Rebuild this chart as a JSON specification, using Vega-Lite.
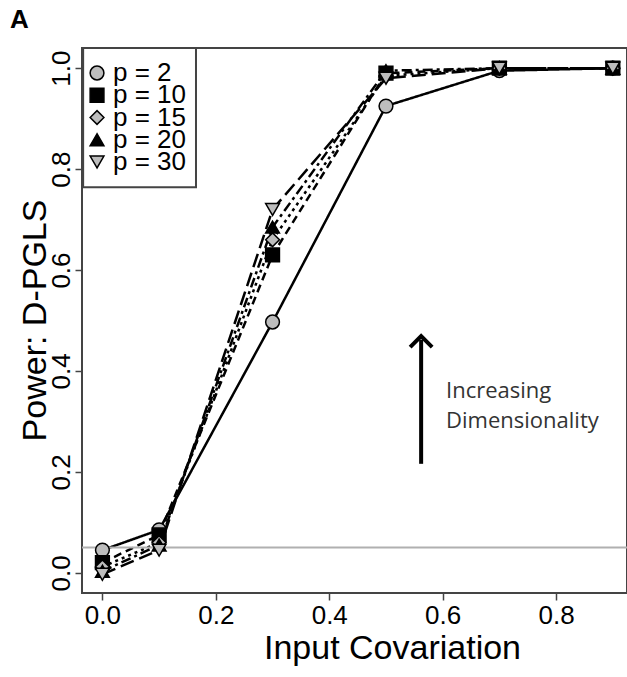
{
  "$schema": "https://vega.github.io/schema/vega-lite/v6.json",
  "width": 545,
  "height": 545,
  "autosize": {"type": "none"},
  "padding": {"left": 82, "top": 48, "right": 0, "bottom": 84},
  "background": "white",
  "title": {"text": "A", "anchor": "start", "frame": "group", "dx": -72, "offset": 14, "fontSize": 26, "fontWeight": "bold", "font": "Liberation Sans", "color": "black"},
  "config": {
    "view": {"stroke": "#444", "strokeWidth": 2},
    "font": "Liberation Sans"
  },
  "datasets": {
    "power": [
      {"p": "p = 2", "x": 0.0, "y": 0.045},
      {"p": "p = 2", "x": 0.1, "y": 0.085},
      {"p": "p = 2", "x": 0.3, "y": 0.497},
      {"p": "p = 2", "x": 0.5, "y": 0.925},
      {"p": "p = 2", "x": 0.7, "y": 0.995},
      {"p": "p = 2", "x": 0.9, "y": 1.0},
      {"p": "p = 10", "x": 0.0, "y": 0.02},
      {"p": "p = 10", "x": 0.1, "y": 0.075},
      {"p": "p = 10", "x": 0.3, "y": 0.63},
      {"p": "p = 10", "x": 0.5, "y": 0.99},
      {"p": "p = 10", "x": 0.7, "y": 1.0},
      {"p": "p = 10", "x": 0.9, "y": 1.0},
      {"p": "p = 15", "x": 0.0, "y": 0.012},
      {"p": "p = 15", "x": 0.1, "y": 0.06},
      {"p": "p = 15", "x": 0.3, "y": 0.66},
      {"p": "p = 15", "x": 0.5, "y": 0.985},
      {"p": "p = 15", "x": 0.7, "y": 1.0},
      {"p": "p = 15", "x": 0.9, "y": 1.0},
      {"p": "p = 20", "x": 0.0, "y": 0.003},
      {"p": "p = 20", "x": 0.1, "y": 0.055},
      {"p": "p = 20", "x": 0.3, "y": 0.685},
      {"p": "p = 20", "x": 0.5, "y": 0.995},
      {"p": "p = 20", "x": 0.7, "y": 1.0},
      {"p": "p = 20", "x": 0.9, "y": 1.0},
      {"p": "p = 30", "x": 0.0, "y": -0.003},
      {"p": "p = 30", "x": 0.1, "y": 0.045},
      {"p": "p = 30", "x": 0.3, "y": 0.72},
      {"p": "p = 30", "x": 0.5, "y": 0.98},
      {"p": "p = 30", "x": 0.7, "y": 1.0},
      {"p": "p = 30", "x": 0.9, "y": 1.0}
    ],
    "series": [
      {"p": "p = 2"},
      {"p": "p = 10"},
      {"p": "p = 15"},
      {"p": "p = 20"},
      {"p": "p = 30"}
    ]
  },
  "layer": [
    {
      "layer": [
        {
          "data": {"name": "power"},
          "mark": {"type": "line", "color": "black", "strokeWidth": 2.5},
          "encoding": {
            "x": {
              "field": "x", "type": "quantitative",
              "scale": {"domain": [-0.036, 0.925], "nice": false, "zero": false},
              "axis": {
                "values": [0, 0.2, 0.4, 0.6, 0.8], "format": ".1f", "grid": false, "domain": false,
                "tickColor": "#444", "tickWidth": 1.5, "tickSize": 7,
                "labelFontSize": 26, "labelColor": "black", "labelPadding": 2, "labelFont": "Liberation Sans",
                "title": "Input Covariation", "titleFontSize": 34, "titleFontWeight": "normal", "titleColor": "black",
                "titleFont": "Liberation Sans", "titleX": 310, "titleY": 55, "titleAlign": "center", "titleBaseline": "middle"
              }
            },
            "y": {
              "field": "y", "type": "quantitative",
              "scale": {"domain": [-0.04, 1.04], "nice": false, "zero": false},
              "axis": {
                "values": [0, 0.2, 0.4, 0.6, 0.8, 1.0], "format": ".1f", "grid": false, "domain": false,
                "tickColor": "#444", "tickWidth": 1.5, "tickSize": 7,
                "labelFontSize": 26, "labelColor": "black", "labelPadding": 1, "labelAngle": -90,
                "labelAlign": "center", "labelBaseline": "bottom", "labelFont": "Liberation Sans",
                "title": "Power: D-PGLS", "titleFontSize": 34, "titleFontWeight": "normal", "titleColor": "black",
                "titleFont": "Liberation Sans", "titleAngle": -90, "titleX": -47, "titleY": 272, "titleAlign": "center", "titleBaseline": "middle"
              }
            },
            "strokeDash": {
              "field": "p", "type": "nominal",
              "scale": {"domain": ["p = 2", "p = 10", "p = 15", "p = 20", "p = 30"], "range": [[1, 0], [8, 5], [3, 4], [10, 4, 3, 4], [14, 6]]},
              "legend": null
            }
          }
        },
        {
          "data": {"values": [{"y": 0.05}]},
          "mark": {"type": "rule", "color": "#b0b0b0", "strokeWidth": 2},
          "encoding": {
            "y": {"field": "y", "type": "quantitative"}
          }
        },
        {
          "data": {"name": "power"},
          "mark": {"type": "point", "filled": true, "stroke": "black", "strokeWidth": 1.5, "size": 190, "opacity": 1},
          "encoding": {
            "x": {"field": "x", "type": "quantitative"},
            "y": {"field": "y", "type": "quantitative"},
            "shape": {
              "field": "p", "type": "nominal",
              "scale": {"domain": ["p = 2", "p = 10", "p = 15", "p = 20", "p = 30"], "range": ["circle", "square", "diamond", "triangle-up", "triangle-down"]},
              "legend": null
            },
            "fill": {
              "field": "p", "type": "nominal",
              "scale": {"domain": ["p = 2", "p = 10", "p = 15", "p = 20", "p = 30"], "range": ["#bdbdbd", "#000000", "#bdbdbd", "#000000", "#bdbdbd"]},
              "legend": null
            }
          }
        },
        {
          "data": {"values": [{"x": 0.562, "y": 0.216, "y2": 0.462}]},
          "mark": {"type": "rule", "color": "black", "strokeWidth": 4},
          "encoding": {
            "x": {"field": "x", "type": "quantitative"},
            "y": {"field": "y", "type": "quantitative"},
            "y2": {"field": "y2"}
          }
        },
        {
          "data": {"values": [{"x": 0.562, "y": 0.469}]},
          "mark": {"type": "point", "shape": "M-1,1L0,0L1,1", "filled": false, "stroke": "black", "strokeWidth": 4, "size": 484, "opacity": 1},
          "encoding": {
            "x": {"field": "x", "type": "quantitative"},
            "y": {"field": "y", "type": "quantitative"}
          }
        },
        {
          "data": {"values": [{"x": 0.606, "y": 0.36, "t": "Increasing"}, {"x": 0.606, "y": 0.301, "t": "Dimensionality"}]},
          "mark": {"type": "text", "align": "left", "baseline": "middle", "font": "Open Sans", "fontSize": 22, "color": "#333"},
          "encoding": {
            "x": {"field": "x", "type": "quantitative"},
            "y": {"field": "y", "type": "quantitative"},
            "text": {"field": "t"}
          }
        },
        {
          "data": {"values": [{"box": "legend"}]},
          "mark": {"type": "rect", "fill": "white", "stroke": "#444", "strokeWidth": 2},
          "encoding": {
            "x": {"datum": -0.034, "type": "quantitative"},
            "x2": {"datum": 0.165},
            "y": {"datum": 1.04, "type": "quantitative"},
            "y2": {"datum": 0.764}
          }
        }
      ]
    },
    {
      "data": {"name": "series"},
      "layer": [
        {
          "mark": {"type": "point", "filled": true, "stroke": "black", "strokeWidth": 1.5, "size": 190, "opacity": 1},
          "encoding": {
            "x": {"datum": -0.0095, "type": "quantitative"},
            "y": {"field": "p", "type": "nominal", "scale": {"type": "point", "domain": ["p = 2", "p = 10", "p = 15", "p = 20", "p = 30"], "range": [25, 114], "padding": 0}, "axis": null},
            "shape": {"field": "p", "type": "nominal", "legend": null},
            "fill": {"field": "p", "type": "nominal", "legend": null}
          }
        },
        {
          "mark": {"type": "text", "align": "left", "baseline": "middle", "font": "Liberation Sans", "fontSize": 26, "color": "black"},
          "encoding": {
            "x": {"datum": 0.0187, "type": "quantitative"},
            "y": {"field": "p", "type": "nominal", "axis": null},
            "text": {"field": "p"}
          }
        }
      ]
    }
  ],
  "resolve": {"scale": {"y": "independent"}, "axis": {"y": "independent"}}
}
